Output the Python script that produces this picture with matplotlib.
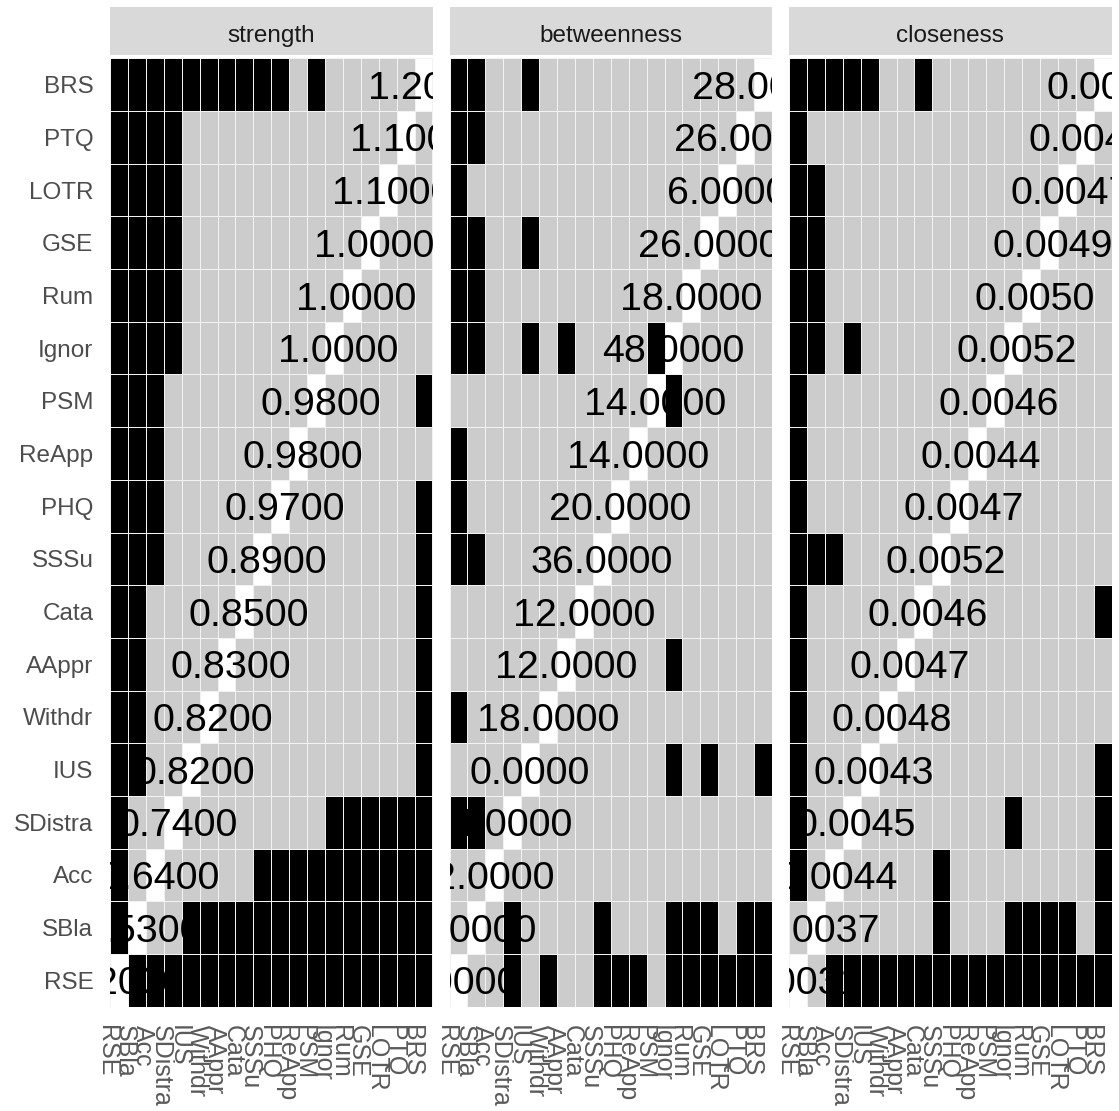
import numpy as np
import matplotlib
matplotlib.use('Agg')
import matplotlib.pyplot as plt
import matplotlib.transforms as mtransforms
from matplotlib.colors import ListedColormap

plt.rcParams['font.family'] = ['Liberation Sans', 'DejaVu Sans']

# node order (x axis left->right, y axis bottom->top)
nodes = ["RSE", "SBla", "Acc", "SDistra", "IUS", "Withdr", "AAppr", "Cata", "SSSu",
         "PHQ", "ReApp", "PSM", "Ignor", "Rum", "GSE", "LOTR", "PTQ", "BRS"]

# rows as read top->bottom (BRS first); 1 = significant difference (black)
rows_top_down = nodes[::-1]

strength_sig = [
    "111111111101000000",  # BRS
    "111100000000000000",  # PTQ
    "111100000000000000",  # LOTR
    "111100000000000000",  # GSE
    "111100000000000000",  # Rum
    "111100000000000000",  # Ignor
    "111000000000000001",  # PSM
    "111000000000000000",  # ReApp
    "111000000000000001",  # PHQ
    "111000000000000001",  # SSSu
    "110000000000000001",  # Cata
    "110000000000000001",  # AAppr
    "110000000000000001",  # Withdr
    "110000000000000001",  # IUS
    "100000000000111111",  # SDistra
    "100000001111111111",  # Acc
    "100011111111111111",  # SBla
    "011111111111111111",  # RSE
]

betweenness_sig = [
    "110010000000000000",  # BRS
    "110000000000000000",  # PTQ
    "100000000000000000",  # LOTR
    "110010000000000000",  # GSE
    "110000000000000000",  # Rum
    "110010100001000000",  # Ignor
    "000000000000100000",  # PSM
    "100000000000000000",  # ReApp
    "100000000000000000",  # PHQ
    "110000000000000000",  # SSSu
    "000000000000000000",  # Cata
    "000000000000100000",  # AAppr
    "100000000000000000",  # Withdr
    "000000000000101001",  # IUS
    "110000000000000000",  # SDistra
    "000000000000000000",  # Acc
    "000100001000111011",  # SBla
    "000101001110111111",  # RSE
]

closeness_sig = [
    "111110010000000000",  # BRS
    "100000000000000000",  # PTQ
    "110000000000000000",  # LOTR
    "110000000000000000",  # GSE
    "110000000000000000",  # Rum
    "110100000000000000",  # Ignor
    "100000000000000000",  # PSM
    "100000000000000000",  # ReApp
    "100000000000000000",  # PHQ
    "111000000000000000",  # SSSu
    "100000000000000001",  # Cata
    "100000000000000000",  # AAppr
    "100000000000000000",  # Withdr
    "100000000000000001",  # IUS
    "100000000000100001",  # SDistra
    "100000001000000001",  # Acc
    "000000001000111101",  # SBla
    "001111111111111111",  # RSE
]

# diagonal values, top->bottom
strength_vals = [1.20, 1.10, 1.10, 1.00, 1.00, 1.00, 0.98, 0.98, 0.97,
                 0.89, 0.85, 0.83, 0.82, 0.82, 0.74, 0.64, 0.53, 0.20]
betweenness_vals = [28, 26, 6, 26, 18, 48, 14, 14, 20,
                    36, 12, 12, 18, 0, 4, 2, 0, 0]
closeness_vals = [0.0048, 0.0045, 0.0047, 0.0049, 0.0050, 0.0052, 0.0046, 0.0044, 0.0047,
                  0.0052, 0.0046, 0.0047, 0.0048, 0.0043, 0.0045, 0.0044, 0.0037, 0.0031]

panels = [("strength", strength_sig, strength_vals),
          ("betweenness", betweenness_sig, betweenness_vals),
          ("closeness", closeness_sig, closeness_vals)]

W, H = 1119, 1111
fig = plt.figure(figsize=(W / 100, H / 100), dpi=100)

lefts = [110, 449.5, 789]
pw = 322.5
p_top, p_bot = 58.3, 1006.7
strip_top, strip_bot = 6.7, 55.0
# small horizontal shift of the value labels (px), as in the original
label_shift = [4.5, 0.0, 4.0]

n = len(nodes)
cmap = ListedColormap(['#CCCCCC', 'black', 'white'])
row_h_px = (p_bot - p_top) / n
fs_val = 28.4
cap_off = 0.716 * fs_val * 100 / 72 / 2 / row_h_px

for k, (title, sig, vals) in enumerate(panels):
    ax = fig.add_axes([lefts[k] / W, 1 - p_bot / H, pw / W, (p_bot - p_top) / H])
    M = np.zeros((n, n))
    for r, name in enumerate(rows_top_down):
        j = nodes.index(name)
        M[j, :] = [int(c) for c in sig[r]]
        M[j, j] = 2
    ax.pcolormesh(np.arange(n + 1), np.arange(n + 1), M, cmap=cmap, vmin=-0.5, vmax=2.5,
                  edgecolors='#F2F2F2', linewidth=0.45)
    shift = ax.transData + mtransforms.ScaledTranslation(label_shift[k] / 100, 0, fig.dpi_scale_trans)
    for r, name in enumerate(rows_top_down):
        j = nodes.index(name)
        ax.text(j + 0.5, j + 0.5 - cap_off, f"{vals[r]:.4f}", ha='center', va='baseline',
                fontsize=fs_val, color='black', clip_on=True, transform=shift)
    ax.set_xlim(0, n)
    ax.set_ylim(0, n)
    for s in ax.spines.values():
        s.set_visible(False)
    ax.set_xticks(np.arange(n) + 0.5)
    ax.set_xticklabels(nodes, rotation=270, ha='right', va='top')
    ax.tick_params(axis='x', length=0, pad=13, labelsize=18, labelcolor='#5A5A5A')
    if k == 0:
        ax.set_yticks(np.arange(n) + 0.5)
        ax.set_yticklabels(nodes)
        ax.tick_params(axis='y', length=0, pad=12, labelsize=17.5, labelcolor='#4D4D4D')
    else:
        ax.set_yticks([])

    sax = fig.add_axes([lefts[k] / W, 1 - strip_bot / H, pw / W, (strip_bot - strip_top) / H])
    sax.set_facecolor('#D9D9D9')
    sax.set_xticks([])
    sax.set_yticks([])
    for s in sax.spines.values():
        s.set_visible(False)
    sax.text(0.5, 0.27, title, ha='center', va='baseline', fontsize=17.5, color='#1A1A1A',
             transform=sax.transAxes)

fig.savefig('out.png', dpi=100)
